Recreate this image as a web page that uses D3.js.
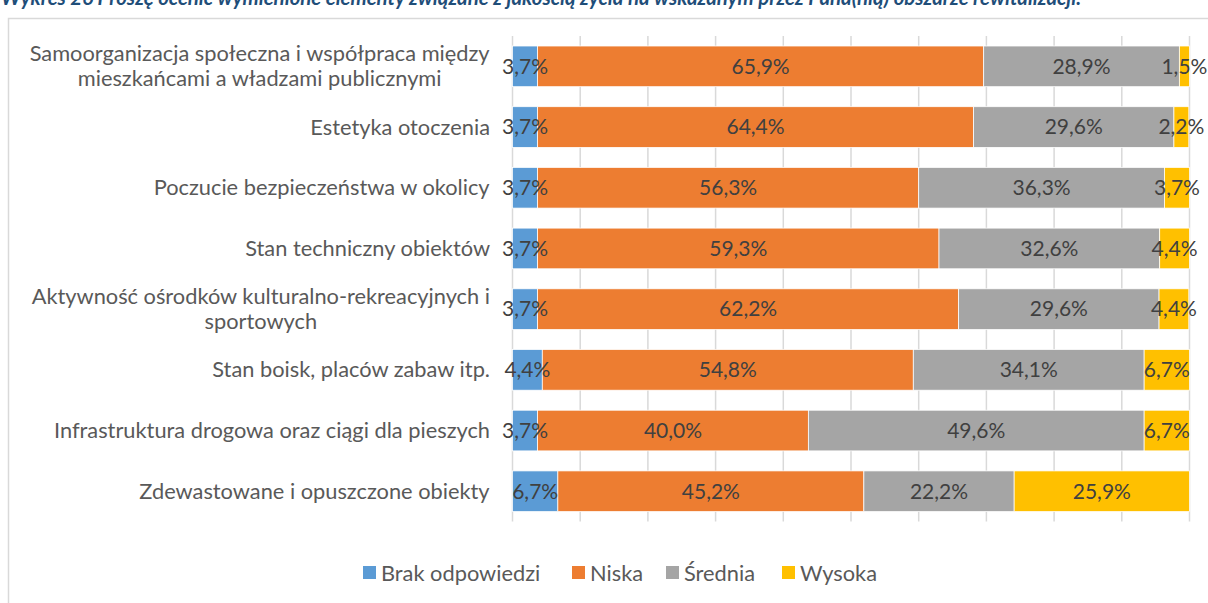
<!DOCTYPE html>
<html>
<head>
<meta charset="utf-8">
<script src="https://cdn.jsdelivr.net/npm/d3@7"></script>
<style>
  body { margin: 0; background: #fff; }
  svg { display: block; }
</style>
</head>
<body>
<div id="chart"></div>
<script>
const categories = [
  ['Samoorganizacja społeczna i współpraca między', 'mieszkańcami a władzami publicznymi'],
  ['Estetyka otoczenia'],
  ['Poczucie bezpieczeństwa w okolicy'],
  ['Stan techniczny obiektów'],
  ['Aktywność ośrodków kulturalno-rekreacyjnych i', 'sportowych'],
  ['Stan boisk, placów zabaw itp.'],
  ['Infrastruktura drogowa oraz ciągi dla pieszych'],
  ['Zdewastowane i opuszczone obiekty']
];
const seriesNames = ['Brak odpowiedzi', 'Niska', 'Średnia', 'Wysoka'];
const brak =    [3.7, 3.7, 3.7, 3.7, 3.7, 4.4, 3.7, 6.7];
const niska =   [65.9, 64.4, 56.3, 59.3, 62.2, 54.8, 40.0, 45.2];
const srednia = [28.9, 29.6, 36.3, 32.6, 29.6, 34.1, 49.6, 22.2];
const wysoka =  [1.5, 2.2, 3.7, 4.4, 4.4, 6.7, 6.7, 25.9];
const colors = ['#5B9BD5', '#ED7D31', '#A5A5A5', '#FFC000'];
const title = 'Wykres 26 Proszę ocenić wymienione elementy związane z jakością życia na wskazanym przez Pana(nią) obszarze rewitalizacji.';

const width = 1208, height = 603;
const font = 'Lato, sans-serif';
const svg = d3.select('#chart').append('svg')
  .attr('width', width).attr('height', height);

// caption above the frame, cut off by the page top as in the source
svg.append('text')
  .attr('x', 1).attr('y', 5)
  .attr('fill', '#1F4E79')
  .style('font-family', font)
  .style('font-style', 'italic')
  .style('font-weight', 'bold')
  .style('font-size', '20.4px')
  .text(title);

// chart frame
svg.append('path')
  .attr('d', 'M8.5,' + height + 'V18.5H' + width)
  .attr('fill', 'none')
  .attr('stroke', '#D9D9D9')
  .attr('stroke-width', 1.5);

const rows = categories.map((c, i) => ({
  label: c, values: [brak[i], niska[i], srednia[i], wysoka[i]]
}));

const x = d3.scaleLinear().domain([0, 100]).range([512.5, 1189.5]);
const y = d3.scaleBand().domain(d3.range(categories.length)).range([36, 521.6]).paddingInner(0.33).paddingOuter(0.165);

const g = svg.append('g');

// gridlines
g.selectAll('line.grid')
  .data(d3.range(0, 101, 10))
  .enter().append('line')
  .attr('x1', d => x(d)).attr('x2', d => x(d))
  .attr('y1', 36).attr('y2', 521.6)
  .attr('stroke', '#D9D9D9')
  .attr('stroke-width', 1.5);

// stacked bars
const fmt = v => d3.format('.1f')(v).replace('.', ',') + '%';
rows.forEach((r, i) => {
  let acc = 0;
  const segs = r.values.map((v, k) => {
    const s = { x0: acc, x1: acc + v, v: v, k: k };
    acc += v;
    return s;
  });
  const row = g.append('g').attr('transform', 'translate(0,' + y(i) + ')');
  row.selectAll('rect')
    .data(segs)
    .enter().append('rect')
    .attr('x', d => x(d.x0))
    .attr('width', d => x(d.x1) - x(d.x0))
    .attr('height', y.bandwidth())
    .attr('fill', d => colors[d.k])
    .attr('stroke', '#fff')
    .attr('stroke-width', 0.75);
  row.selectAll('text')
    .data(segs)
    .enter().append('text')
    .attr('x', d => (x(d.x0) + x(d.x1)) / 2)
    .attr('y', y.bandwidth() / 2)
    .attr('dy', '0.35em')
    .attr('text-anchor', 'middle')
    .attr('fill', '#404040')
    .style('font-family', font)
    .style('font-size', '21px')
    .text(d => fmt(d.v));
});

// category labels
const labels = g.selectAll('text.cat')
  .data(rows)
  .enter().append('text')
  .attr('class', 'cat')
  .attr('text-anchor', 'middle')
  .attr('fill', '#595959')
  .style('font-family', font)
  .style('font-size', '21.8px');
labels.each(function (d, i) {
  const t = d3.select(this);
  const n = d.label.length;
  const cy = y(i) + y.bandwidth() / 2;
  d.label.forEach((line, j) => {
    t.append('tspan')
      .attr('x', 0)
      .attr('y', cy + (j - (n - 1) / 2) * 25)
      .attr('dy', '0.35em')
      .text(line);
  });
  // right-align the block, center lines within it
  const w = this.getBBox().width;
  t.selectAll('tspan').attr('x', 490 - w / 2);
});

// legend
const legendX = [363, 572, 666, 782];
const legend = svg.append('g');
seriesNames.forEach((s, k) => {
  legend.append('rect')
    .attr('x', legendX[k]).attr('y', 566)
    .attr('width', 13).attr('height', 13)
    .attr('fill', colors[k]);
  legend.append('text')
    .attr('x', legendX[k] + 18).attr('y', 573)
    .attr('dy', '0.35em')
    .attr('fill', '#595959')
    .style('font-family', font)
    .style('font-size', '21.8px')
    .text(s);
});
</script>
</body>
</html>
